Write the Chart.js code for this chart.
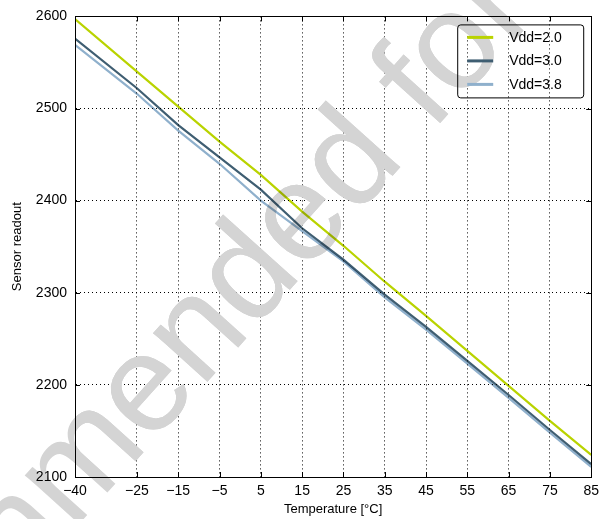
<!DOCTYPE html>
<html>
<head>
<meta charset="utf-8">
<script src="https://cdn.jsdelivr.net/npm/chart.js@4/dist/chart.umd.min.js"></script>
<style>
  html, body { margin: 0; padding: 0; background: #ffffff; }
  #wrap { width: 605px; height: 519px; }
</style>
</head>
<body>
<div id="wrap"><canvas id="c" width="605" height="519"></canvas></div>
<script>
// ---- data ----
const temperatures = [-40, -25, -15, -5, 5, 15, 25, 35, 45, 55, 65, 75, 85];
const vdd20 = [2597, 2540, 2502, 2464, 2428, 2388, 2351, 2312, 2275, 2237, 2199, 2161, 2124];
const vdd30 = [2576, 2522, 2482, 2447, 2412, 2370, 2336, 2298, 2263, 2226, 2189, 2151, 2114];
const vdd38 = [2569, 2516, 2476, 2440, 2400, 2367, 2334, 2295, 2260, 2223, 2186, 2148, 2111];
const seriesLabels = ['Vdd=2.0', 'Vdd=3.0', 'Vdd=3.8'];
const seriesColors = ['#b9d300', '#3f5e72', '#8fb0cc'];
const xTickValues = [-40, -25, -15, -5, 5, 15, 25, 35, 45, 55, 65, 75, 85];
const yTickValues = [2100, 2200, 2300, 2400, 2500, 2600];
const xTitle = 'Temperature [°C]';
const yTitle = 'Sensor readout';
const watermarkText = 'Not recommended for new designs';

const FONT = "'Liberation Sans', Arial, Helvetica, sans-serif";

function toPoints(xs, ys) { return xs.map((x, i) => ({ x: x, y: ys[i] })); }
function fmt(v) { return v < 0 ? '\u2212' + Math.abs(v) : String(v); }

const seriesValues = [vdd20, vdd30, vdd38];
const datasets = seriesValues.map((vals, i) => ({
  label: seriesLabels[i],
  data: toPoints(temperatures, vals),
  borderColor: seriesColors[i],
  backgroundColor: seriesColors[i],
  borderWidth: 2.2,
  pointRadius: 0,
  tension: 0,
  fill: false
}));

function drawWatermark(ctx, clip) {
  ctx.save();
  if (clip) {
    ctx.beginPath();
    ctx.rect(clip.left, clip.top, clip.right - clip.left, clip.bottom - clip.top);
    ctx.clip();
  }
  ctx.fillStyle = '#d4d4d4';
  ctx.font = '138px ' + FONT;
  ctx.textBaseline = 'alphabetic';
  ctx.textAlign = 'left';
  ctx.translate(432, 132);
  ctx.rotate(-48 * Math.PI / 180);
  const pre = ctx.measureText('Not recommended ').width;
  ctx.fillText(watermarkText, -pre, 0);
  ctx.restore();
}

const framePlugin = {
  id: 'frame',
  beforeDraw(chart) {
    drawWatermark(chart.ctx, null);
  },
  beforeDatasetsDraw(chart) {
    const ctx = chart.ctx;
    drawWatermark(ctx, chart.chartArea);
    ctx.save();
    ctx.globalCompositeOperation = 'multiply';
  },
  afterDatasetsDraw(chart) {
    const ctx = chart.ctx;
    ctx.restore();
    const a = chart.chartArea;
    const xs = chart.scales.x, ys = chart.scales.y;
    ctx.save();
    ctx.strokeStyle = '#000';
    ctx.lineWidth = 1;
    ctx.beginPath();
    xs.ticks.forEach(t => {
      const px = Math.round(xs.getPixelForValue(t.value)) + 0.5;
      ctx.moveTo(px, a.bottom); ctx.lineTo(px, a.bottom - 5);
      ctx.moveTo(px, a.top); ctx.lineTo(px, a.top + 5);
    });
    ys.ticks.forEach(t => {
      const py = Math.round(ys.getPixelForValue(t.value)) + 0.5;
      ctx.moveTo(a.left, py); ctx.lineTo(a.left + 5, py);
      ctx.moveTo(a.right, py); ctx.lineTo(a.right - 5, py);
    });
    ctx.stroke();
    ctx.strokeRect(Math.round(a.left) + 0.5, Math.round(a.top) + 0.5,
                   Math.round(a.right - a.left), Math.round(a.bottom - a.top));
    ctx.restore();
  },
  afterDraw(chart) {
    const ctx = chart.ctx;
    const a = chart.chartArea;
    const bw = 126, bh = 73;
    const bx = a.right - 8 - bw, by = a.top + 8;
    ctx.save();
    ctx.strokeStyle = '#000';
    ctx.lineWidth = 1;
    ctx.beginPath();
    if (ctx.roundRect) ctx.roundRect(bx + 0.5, by + 0.5, bw, bh, 3); else ctx.rect(bx + 0.5, by + 0.5, bw, bh);
    ctx.stroke();
    ctx.font = '14px ' + FONT;
    ctx.textBaseline = 'middle';
    ctx.textAlign = 'left';
    chart.data.datasets.forEach((ds, i) => {
      const y = by + 13 + i * 23.5;
      ctx.strokeStyle = ds.borderColor;
      ctx.lineWidth = 3;
      ctx.beginPath();
      ctx.moveTo(bx + 10, y); ctx.lineTo(bx + 36, y);
      ctx.stroke();
      ctx.fillStyle = '#000';
      ctx.fillText(ds.label, bx + 52, y + 0.5);
    });
    ctx.restore();
  }
};

new Chart(document.getElementById('c'), {
  type: 'line',
  data: { datasets: datasets },
  plugins: [framePlugin],
  options: {
    responsive: false,
    animation: false,
    layout: { padding: { top: 16, right: 10, left: 0, bottom: 0 } },
    plugins: { legend: { display: false }, tooltip: { enabled: false } },
    scales: {
      x: {
        type: 'linear',
        min: -40, max: 85,
        afterBuildTicks: s => { s.ticks = xTickValues.map(v => ({ value: v })); },
        afterFit: s => { s.height = 42; },
        grid: { color: '#000', lineWidth: 1, drawTicks: false },
        border: { display: true, color: '#000', width: 1, dash: [1, 3] },
        ticks: {
          autoSkip: false, maxRotation: 0, padding: 6, color: '#000',
          font: { family: FONT, size: 14 },
          callback: v => fmt(v)
        },
        title: { display: true, text: xTitle, color: '#000', font: { family: FONT, size: 13 }, padding: { top: 0, bottom: 2 } }
      },
      y: {
        type: 'linear',
        min: 2100, max: 2600,
        afterBuildTicks: s => { s.ticks = yTickValues.map(v => ({ value: v })); },
        afterFit: s => { s.width = 75; },
        grid: { color: '#000', lineWidth: 1, drawTicks: false },
        border: { display: true, color: '#000', width: 1, dash: [1, 3] },
        ticks: {
          padding: 8, color: '#000',
          font: { family: FONT, size: 14 },
          callback: v => fmt(v)
        },
        title: { display: true, text: yTitle, color: '#000', font: { family: FONT, size: 13 }, padding: { top: 10, bottom: 0 } }
      }
    }
  }
});
</script>
</body>
</html>
